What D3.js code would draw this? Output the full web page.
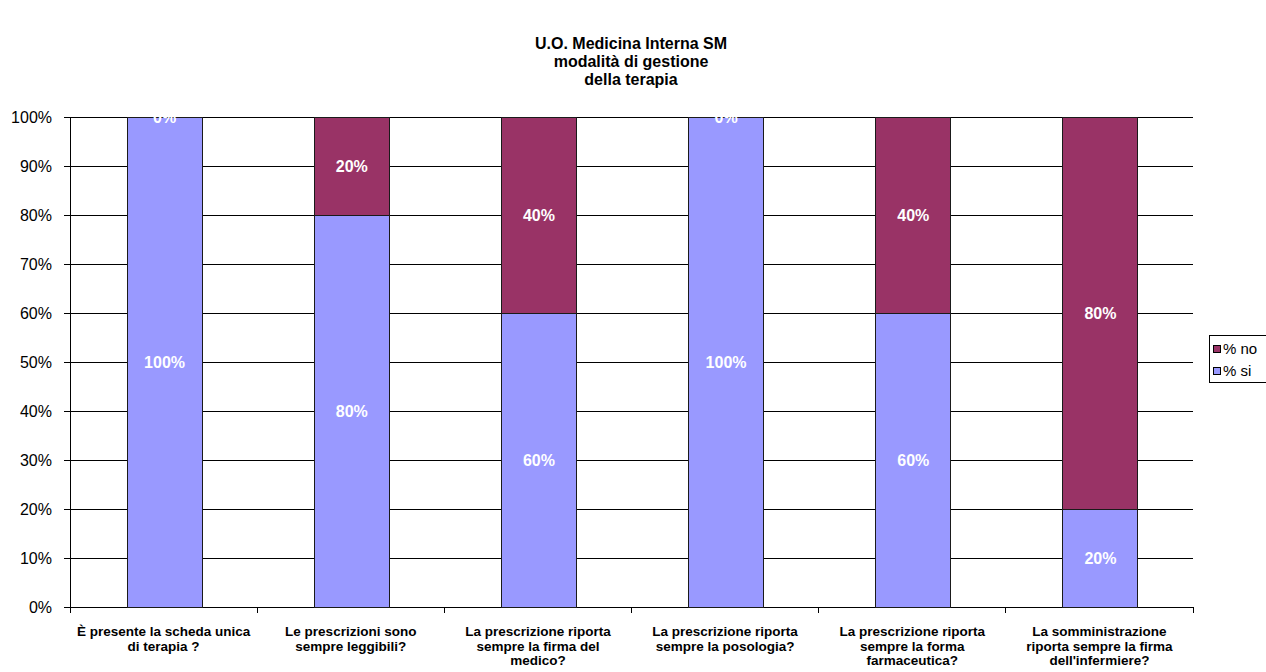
<!DOCTYPE html>
<html>
<head>
<meta charset="utf-8">
<script src="https://cdn.jsdelivr.net/npm/d3@7"></script>
<style>
  html, body { margin: 0; padding: 0; background: #fff; }
  svg { display: block; font-family: "Liberation Sans", Arial, sans-serif; }
</style>
</head>
<body>
<svg id="chart" width="1266" height="672"></svg>
<script>
// Questions on the x axis (each label split into its display lines)
const categories = [
  ["È presente la scheda unica", "di terapia ?"],
  ["Le prescrizioni sono", "sempre leggibili?"],
  ["La prescrizione riporta", "sempre la firma del", "medico?"],
  ["La prescrizione riporta", "sempre la posologia?"],
  ["La prescrizione riporta", "sempre la forma", "farmaceutica?"],
  ["La somministrazione", "riporta sempre la firma", "dell'infermiere?"]
];
const siValues = [100, 80, 60, 100, 60, 20];
const noValues = [0, 20, 40, 0, 40, 80];
const seriesNames = ["% si", "% no"];
const seriesColors = ["#9999FF", "#993366"];
const yTicks = [0, 10, 20, 30, 40, 50, 60, 70, 80, 90, 100];
const titleLines = ["U.O. Medicina Interna SM", "modalità di gestione", "della terapia"];

const svg = d3.select("#chart");
const plot = { left: 70, right: 1193, top: 117, bottom: 607 };

const x = d3.scaleBand()
  .domain(d3.range(categories.length))
  .range([plot.left, plot.right])
  .paddingInner(0.6)
  .paddingOuter(0.3);

const y = d3.scaleLinear().domain([0, 100]).range([plot.bottom, plot.top]);

// Title
svg.append("text")
  .attr("text-anchor", "middle")
  .style("font-weight", "bold").style("font-size", "16px")
  .selectAll("tspan").data(titleLines).join("tspan")
  .attr("x", 631).attr("y", (d, i) => 49 + i * 18)
  .text(d => d);

// Horizontal gridlines
svg.append("g").selectAll("line").data(yTicks).join("line")
  .attr("x1", plot.left).attr("x2", plot.right)
  .attr("y1", d => y(d)).attr("y2", d => y(d))
  .attr("stroke", "#000").attr("stroke-width", 1)
  .attr("shape-rendering", "crispEdges");

// Y axis
const yAxis = d3.axisLeft(y).tickValues(yTicks).tickFormat(d => d + "%").tickSize(6).tickPadding(12);
const yg = svg.append("g").attr("transform", `translate(${plot.left},0)`).call(yAxis);
yg.selectAll("text").style("font-size", "16px").attr("fill", "#000");
yg.selectAll("line, path").attr("stroke", "#000").attr("shape-rendering", "crispEdges");
yg.select(".domain").attr("d", `M-6,${plot.top}H0V${plot.bottom}H-6`);

// X axis: baseline and ticks at category boundaries
const catW = (plot.right - plot.left) / categories.length;
const boundaries = d3.range(categories.length + 1).map(i => plot.left + i * catW);
const xg = svg.append("g");
xg.append("line").attr("x1", plot.left).attr("x2", plot.right)
  .attr("y1", plot.bottom).attr("y2", plot.bottom)
  .attr("stroke", "#000").attr("shape-rendering", "crispEdges");
xg.selectAll("line.tick").data(boundaries).join("line").attr("class", "tick")
  .attr("x1", d => d).attr("x2", d => d)
  .attr("y1", plot.bottom).attr("y2", plot.bottom + 6)
  .attr("stroke", "#000").attr("shape-rendering", "crispEdges");

// Category labels
xg.selectAll("text.cat").data(categories).join("text").attr("class", "cat")
  .attr("text-anchor", "middle")
  .style("font-weight", "bold").style("font-size", "13.5px")
  .each(function (lines, i) {
    const cx = x(i) + x.bandwidth() / 2;
    d3.select(this).selectAll("tspan").data(lines).join("tspan")
      .attr("x", cx).attr("y", (d, j) => 636 + j * 14.5)
      .text(d => d);
  });

// Stacked bars
const rows = categories.map((c, i) => ({ i, si: siValues[i], no: noValues[i] }));
const stack = d3.stack().keys(["si", "no"]);
const layers = stack(rows);

const layerG = svg.append("g").selectAll("g").data(layers).join("g")
  .attr("fill", (d, k) => seriesColors[k]);

layerG.selectAll("rect").data(d => d).join("rect")
  .attr("x", d => x(d.data.i) + 1)
  .attr("width", x.bandwidth())
  .attr("y", d => y(d[1]))
  .attr("height", d => y(d[0]) - y(d[1]))
  .attr("stroke", "#1a1a1a").attr("stroke-width", 1)
  .attr("shape-rendering", "crispEdges");

// Value labels
layerG.selectAll("text").data((d, k) => d.map(p => ({ p, key: d.key }))).join("text")
  .attr("x", d => x(d.p.data.i) + 1 + x.bandwidth() / 2)
  .attr("y", d => (y(d.p[0]) + y(d.p[1])) / 2)
  .attr("dy", "0.35em")
  .attr("text-anchor", "middle")
  .attr("fill", "#fff")
  .style("font-weight", "bold").style("font-size", "16px")
  .text(d => d.p.data[d.key] + "%");

// Legend
const legend = svg.append("g").attr("transform", "translate(1209,335)");
legend.append("rect").attr("x", 0.5).attr("y", 0.5).attr("width", 70).attr("height", 47)
  .attr("fill", "#fff").attr("stroke", "#000");
const legendItems = [1, 0];
legendItems.forEach((k, j) => {
  const g = legend.append("g").attr("transform", `translate(4,${14 + j * 22})`);
  g.append("rect").attr("x", 0.5).attr("y", -3.5).attr("width", 7).attr("height", 7)
    .attr("fill", seriesColors[k]).attr("stroke", "#000");
  g.append("text").attr("x", 10).attr("y", 0).attr("dy", "0.35em")
    .style("font-size", "15px").text(seriesNames[k]);
});
</script>
</body>
</html>
